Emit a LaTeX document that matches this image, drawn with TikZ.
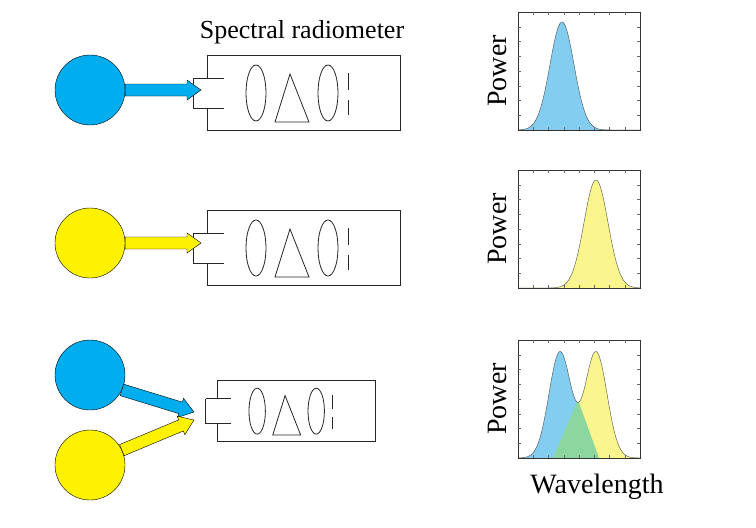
\documentclass[tikz,border=0pt]{standalone}
\usepackage{fontspec}
\setmainfont{Liberation Serif}
\usetikzlibrary{calc}
\definecolor{cblue}{RGB}{0,174,239}
\definecolor{cyel}{RGB}{255,242,0}
\definecolor{fblue}{RGB}{130,205,240}
\definecolor{fyel}{RGB}{250,245,140}
\definecolor{fgreen}{RGB}{140,215,160}
\tikzset{
 src/.style={circle,draw=black,thin,minimum size=70pt,inner sep=0pt},
 box/.style={draw=black!85,line width=0.8pt},
 lbl/.style={font=\fontsize{28}{28}\selectfont}
}
\newcommand{\blockarrow}[3]{%
 \path let \p1=($(#2)-(#1)$), \n1={atan2(\y1,\x1)}, \n2={veclen(\x1,\y1)} in
  [shift={(#1)},rotate=\n1] [draw=black,thin,fill=#3]
  (0,-6) -- (\n2-14,-6) -- (\n2-14,-10) -- (\n2,0) -- (\n2-14,10) -- (\n2-14,6) -- (0,6) -- cycle;}
\newcommand{\radiom}[3]{%
 \begin{scope}[shift={(#1,#2)},scale=#3]
  \draw[box] (-14,23) -- (-14,53) -- (17,53);
  \draw[box] (-14,23) -- (17,23);
  \draw[box] (0,23) -- (0,0) -- (193,0) -- (193,75) -- (0,75) -- (0,53);
  \draw[box] (49,38) ellipse [x radius=10, y radius=28];
  \draw[box] (68,67) -- (83,19) -- (102,67) -- cycle;
  \draw[box] (121,38) ellipse [x radius=10, y radius=28];
  \draw[box] (141,18) -- (141,35) (141,45) -- (141,60);
 \end{scope}}
\newcommand{\plotbox}[2]{%
 \draw[black!80] (#1,#2) rectangle (#1+122,#2+118);
 \foreach \i in {1,...,7}{
  \draw[black!60] (#1+\i*15.25,#2+118) -- ++(0,-3);
  \draw[black!60] (#1+\i*15.25,#2) -- ++(0,3);
  \draw[black!60] (#1,#2+\i*14.75) -- ++(3,0);
  \draw[black!60] (#1+122,#2+\i*14.75) -- ++(-3,0);}
}
\begin{document}
\begin{tikzpicture}[x=1pt,y=-1pt]
\useasboundingbox (0,0) rectangle (756,528);
\node[src,fill=cblue] (s1) at (90,90) {};
\node[src,fill=cyel] (s2) at (90,243) {};
\node[src,fill=cblue] (s3) at (90,375) {};
\node[src,fill=cyel] (s4) at (90,465) {};
\node[font=\fontsize{26}{26}\selectfont] (title) at (302,32) {Spectral radiometer};
\radiom{207}{55}{1}
\radiom{207}{210}{1}
\radiom{217}{380}{0.82}
\coordinate (in1) at (201,90);
\coordinate (in2) at (201,243);
\coordinate (in3) at (194,412);
\coordinate (in4) at (194,420);
\coordinate (o1) at (s1.east);
\coordinate (o2) at (s2.east);
\coordinate (o3) at (s3.-25);
\coordinate (o4) at (s4.25);
\blockarrow{o1}{in1}{cblue}
\blockarrow{o2}{in2}{cyel}
\blockarrow{o3}{in3}{cblue}
\blockarrow{o4}{in4}{cyel}
% plots
\begin{scope}
\clip (518,12) rectangle (640,130);
\fill[fblue] plot[domain=518:640,samples=120,smooth] (\x,{130-108*exp(-((\x-562)^2)/288)}) -- cycle;
\draw[black!70] plot[domain=518:640,samples=120,smooth] (\x,{130-108*exp(-((\x-562)^2)/288)});
\end{scope}
\plotbox{518}{12}
\begin{scope}
\clip (518,170) rectangle (640,288);
\fill[fyel] plot[domain=518:640,samples=120,smooth] (\x,{288-108*exp(-((\x-596)^2)/288)}) -- cycle;
\draw[black!70] plot[domain=518:640,samples=120,smooth] (\x,{288-108*exp(-((\x-596)^2)/288)});
\end{scope}
\plotbox{518}{170}
\begin{scope}
\clip (518,340) rectangle (640,458);
\begin{scope}
\clip plot[domain=518:640,samples=160,smooth] (\x,{458-106*exp(-((\x-596)^2)/242)-106*exp(-((\x-560)^2)/242)}) -- cycle;
\fill[fblue] (518,340) rectangle (578,458);
\fill[fyel] (578,340) rectangle (640,458);
\fill[fgreen] (553,458) -- (578,400) -- (599,458) -- cycle;
\end{scope}
\draw[black!70] plot[domain=518:640,samples=160,smooth] (\x,{458-106*exp(-((\x-596)^2)/242)-106*exp(-((\x-560)^2)/242)});
\end{scope}
\plotbox{518}{340}
\node[lbl,rotate=90] (p1) at (497,71) {Power};
\node[lbl,rotate=90] (p2) at (497,229) {Power};
\node[lbl,rotate=90] (p3) at (497,399) {Power};
\node[lbl] (wl) at (597,487) {Wavelength};
\end{tikzpicture}
\end{document}
